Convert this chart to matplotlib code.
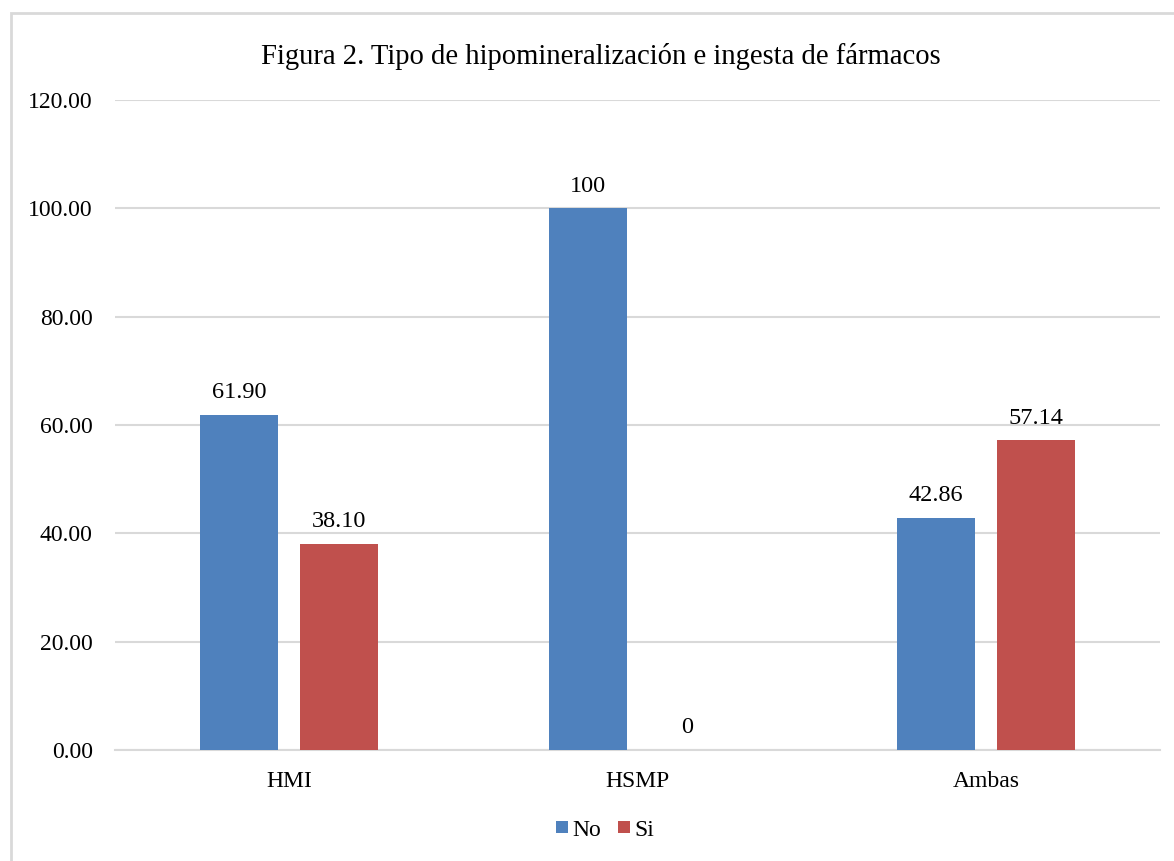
import matplotlib.pyplot as plt
import numpy as np
from matplotlib.patches import Rectangle

categories = ['HMI', 'HSMP', 'Ambas']
no_vals = [61.90, 100, 42.86]
si_vals = [38.10, 0, 57.14]
no_labels = ['61.90', '100', '42.86']
si_labels = ['38.10', '0', '57.14']
yticks = [0, 20, 40, 60, 80, 100, 120]

plt.rcParams['font.family'] = ['Liberation Serif', 'DejaVu Serif']

fig = plt.figure(figsize=(11.74, 8.61), dpi=100)
ax = fig.add_axes([115 / 1174, 1 - 750 / 861, 1045 / 1174, 650 / 861])

x = np.arange(len(categories))
w = 0.224
off = 0.143
b1 = ax.bar(x - off, no_vals, w, color='#4F81BD', label='No', zorder=3)
b2 = ax.bar(x + off, si_vals, w, color='#C0504D', label='Si', zorder=3)

# value labels sit a fixed distance above each bar
for bars, labels in ((b1, no_labels), (b2, si_labels)):
    for rect, lab in zip(bars, labels):
        ax.annotate(lab, (rect.get_x() + rect.get_width() / 2, rect.get_height()),
                    xytext=(0, 16), textcoords='offset points',
                    ha='center', va='center', fontsize=17.5)

ax.set_xlim(-0.5, 2.5)
ax.set_ylim(0, 120)
ax.set_yticks(yticks)
ax.set_yticklabels([f'{v:.2f}' for v in yticks], fontsize=17)
ax.set_xticks(x)
ax.set_xticklabels(categories, fontsize=17)
ax.tick_params(length=0)
ax.xaxis.set_tick_params(pad=15)
ax.yaxis.set_tick_params(pad=16)
ax.grid(axis='y', color='#d9d9d9', linewidth=1.5, zorder=0)
for s in ['top', 'right', 'left']:
    ax.spines[s].set_visible(False)
ax.spines['bottom'].set_color('#d9d9d9')
ax.spines['bottom'].set_linewidth(1.5)

fig.text(601 / 1174, 1 - 57 / 861, 'Figura 2. Tipo de hipomineralización e ingesta de fármacos',
         ha='center', va='center', fontsize=20.6)

fig.legend(loc='center', bbox_to_anchor=(605 / 1174, 1 - 830 / 861), ncol=2, frameon=False,
           fontsize=17, handlelength=0.5, handleheight=0.45, handletextpad=0.2,
           columnspacing=0.7)

fig.patches.append(Rectangle((11 / 1174, -0.1), 1.2, 1 - 13 / 861 + 0.1, transform=fig.transFigure,
                             fill=False, edgecolor='#d9d9d9', linewidth=2))

fig.savefig('out.png', dpi=100)
